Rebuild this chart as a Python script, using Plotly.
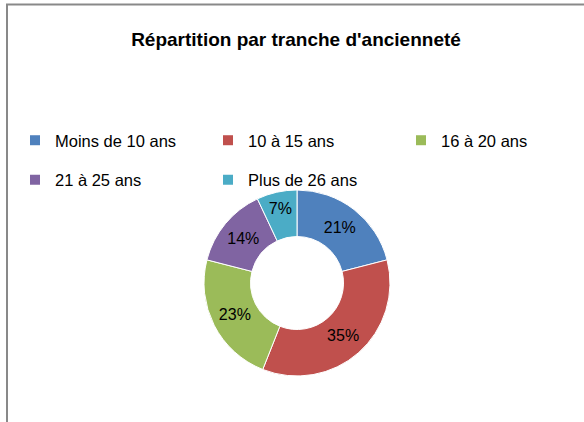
import plotly.graph_objects as go

categories = ["Moins de 10 ans", "10 à 15 ans", "16 à 20 ans", "21 à 25 ans", "Plus de 26 ans"]
values = [21, 35, 23, 14, 7]
colors = ["#4F81BD", "#C0504D", "#9BBB59", "#8064A2", "#4BACC6"]
title_text = "Répartition par tranche d'ancienneté"

W, H = 584, 422
FONT = "Liberation Sans"

fig = go.Figure()

fig.add_trace(go.Pie(
    labels=categories,
    values=values,
    sort=False,
    direction="clockwise",
    rotation=0,
    hole=0.5,
    marker=dict(colors=colors, line=dict(color="white", width=1)),
    textinfo="percent",
    texttemplate="%{percent:.0%}",
    textposition="inside",
    insidetextorientation="horizontal",
    insidetextfont=dict(color="black", size=16, family=FONT),
    showlegend=False,
    domain=dict(x=[204 / W, 390 / W], y=[1 - 376 / H, 1 - 190 / H]),
    hoverinfo="label+percent",
))

# legend entries: row 1 cols 1-2 -> legend, row 1 col 3 -> legend3, row 2 -> legend2
legend_of = ["legend", "legend", "legend3", "legend2", "legend2"]
for cat, col, lg in zip(categories, colors, legend_of):
    fig.add_trace(go.Scatter(
        x=[None], y=[None], mode="markers",
        marker=dict(symbol="square", size=10, color=col),
        name=cat,
        legend=lg,
        hoverinfo="skip",
    ))

legend_common = dict(
    orientation="h",
    entrywidthmode="pixels",
    xanchor="left",
    yanchor="middle",
    font=dict(size=16.5, family=FONT, color="black"),
    bgcolor="rgba(0,0,0,0)",
    itemclick=False,
    itemdoubleclick=False,
)

LX = 15
COL = 193

fig.update_layout(
    width=W, height=H,
    margin=dict(l=0, r=0, t=0, b=0),
    paper_bgcolor="white",
    plot_bgcolor="white",
    font=dict(family=FONT, color="black"),
    title=dict(text="<b>" + title_text + "</b>", x=296 / W, xanchor="center",
               y=1 - 39 / H, yanchor="middle", font=dict(size=19, family=FONT, color="black")),
    xaxis=dict(visible=False),
    yaxis=dict(visible=False),
    legend=dict(x=LX / W, y=1 - 140.5 / H, entrywidth=COL - 45, **legend_common),
    legend3=dict(x=(LX + 2 * COL) / W, y=1 - 140.5 / H, entrywidth=0, **legend_common),
    legend2=dict(x=LX / W, y=1 - 180 / H, entrywidth=COL - 45, **legend_common),
    shapes=[
        dict(type="line", xref="paper", yref="paper", x0=6 / W, x1=1, y0=1 - 4.5 / H, y1=1 - 4.5 / H,
             line=dict(color="#898989", width=2)),
        dict(type="line", xref="paper", yref="paper", x0=7 / W, x1=7 / W, y0=0, y1=1 - 4 / H,
             line=dict(color="#898989", width=2)),
    ],
)

fig.write_html("out.html", config={"displayModeBar": False},
               post_script="document.body.style.margin='0';")
